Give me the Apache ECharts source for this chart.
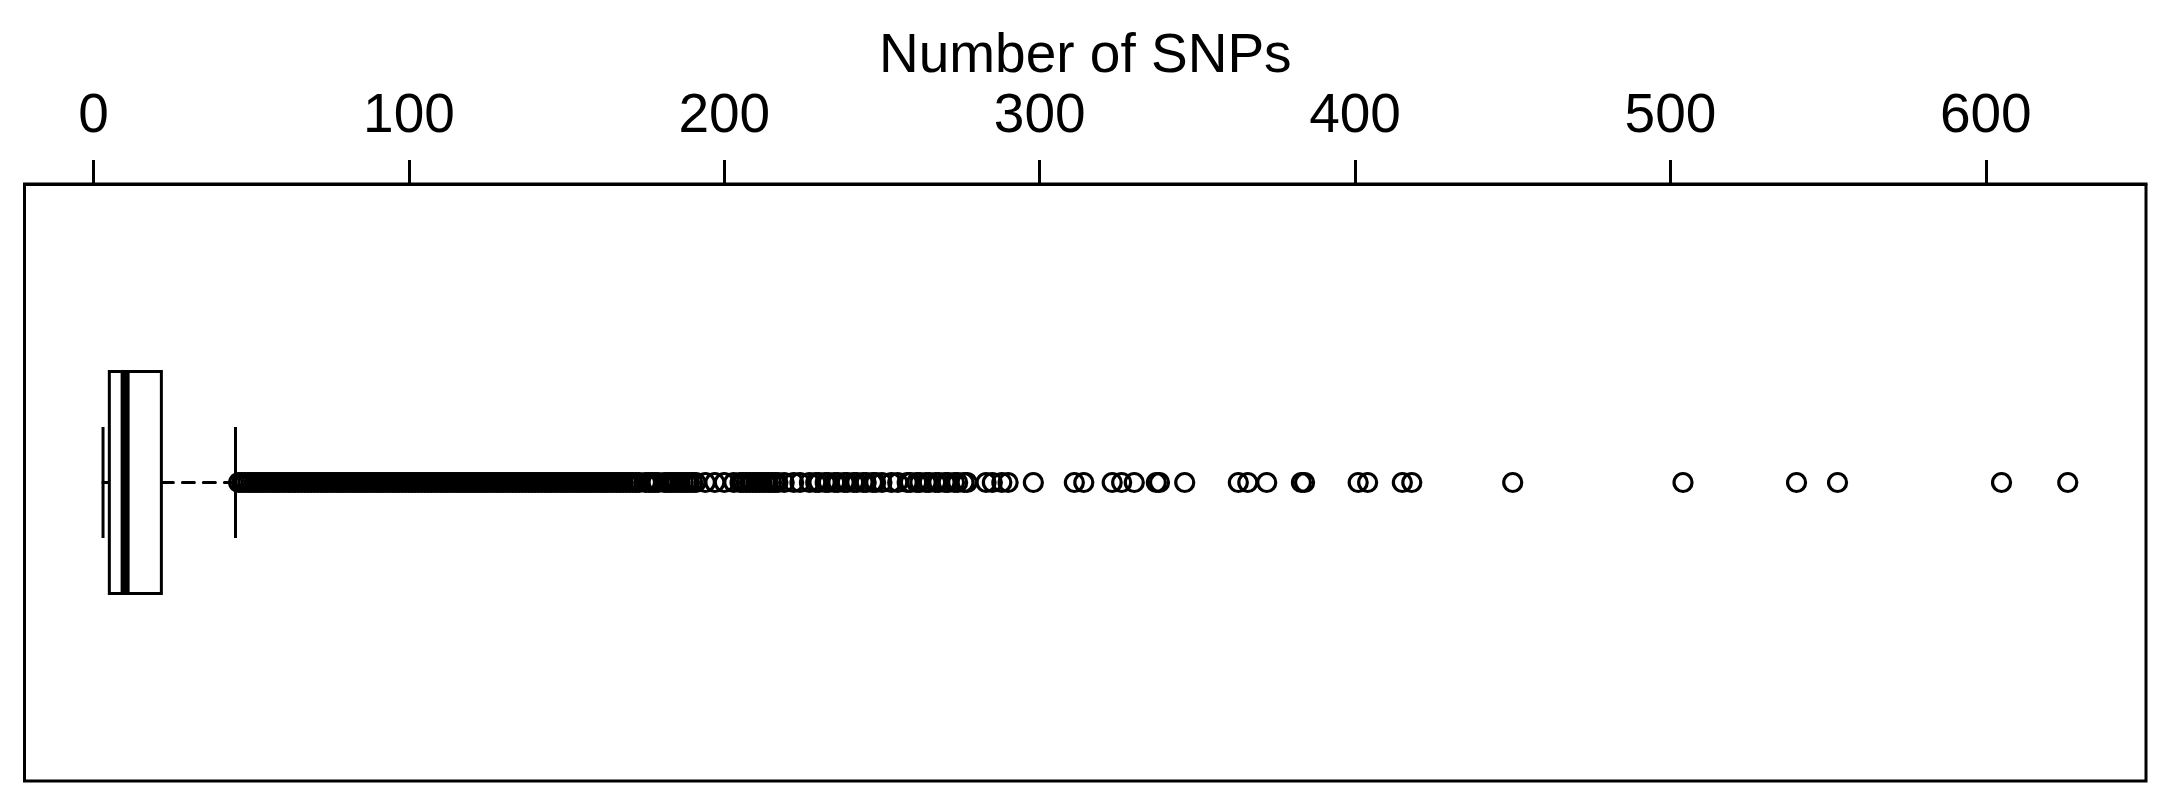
<!DOCTYPE html>
<html>
<head>
<meta charset="utf-8">
<title>Number of SNPs</title>
<script src="https://cdn.jsdelivr.net/npm/echarts@6/dist/echarts.min.js"></script>
<style>
  html, body { margin: 0; padding: 0; background: #fff; }
  #chart { width: 2169px; height: 812px; }
</style>
</head>
<body>
<!-- box plot container -->
<div id="chart"></div>
<script>
  // min whisker, Q1, median, Q3, max whisker
  var boxStats = [3, 5, 10, 21.5, 45];

  // outliers: the band is solid here, every count present
  var denseOutliers = [
    46, 47, 48, 49, 50, 51, 52, 53, 54, 55, 56, 57, 58, 59, 60, 61, 62, 63, 64, 65,
    66, 67, 68, 69, 70, 71, 72, 73, 74, 75, 76, 77, 78, 79, 80, 81, 82, 83, 84, 85,
    86, 87, 88, 89, 90, 91, 92, 93, 94, 95, 96, 97, 98, 99, 100, 101, 102, 103, 104, 105,
    106, 107, 108, 109, 110, 111, 112, 113, 114, 115, 116, 117, 118, 119, 120, 121, 122, 123, 124, 125,
    126, 127, 128, 129, 130, 131, 132, 133, 134, 135, 136, 137, 138, 139, 140, 141, 142, 143, 144, 145,
    146, 147, 148, 149, 150, 151, 152, 153, 154, 155, 156, 157, 158, 159, 160, 161, 162, 163, 164, 165,
    166, 167, 168, 169, 170, 171, 172, 173, 175, 176, 177, 178, 179, 181, 182, 183, 184, 185, 186, 187,
    188, 189, 190, 191
  ];

  // outliers further out, thinning; read one by one
  var sparseOutliers = [
    194, 197, 200, 203, 205, 206, 207, 208, 209, 210, 211, 212, 213, 214, 215, 216,
    217, 219, 222, 224, 227, 229, 230, 232, 233, 235, 236, 238, 239, 241, 242, 244,
    245, 247, 248, 250, 253, 255, 258, 259, 261, 262, 264, 265, 267, 268, 270, 271,
    273, 274, 276, 277, 283, 285, 288, 290, 298, 311, 314, 323, 326, 330, 337, 338,
    346, 363, 366, 372, 383, 384, 401, 404, 415, 418, 450, 504, 540, 553, 605, 626
  ];

  var tickValues = [0, 100, 200, 300, 400, 500, 600];

  var fontName = '"Liberation Sans", Arial, Helvetica, sans-serif';

  function renderBox(params, api) {
    var y = api.value(0);
    var lo = api.coord([api.value(1), y]);
    var q1 = api.coord([api.value(2), y]);
    var med = api.coord([api.value(3), y]);
    var q3 = api.coord([api.value(4), y]);
    var hi = api.coord([api.value(5), y]);
    var band = api.size([0, 1])[1];
    var half = band * 0.186;
    var staple = half / 2;
    var thin = { stroke: '#000', lineWidth: 3 };
    var dashed = { stroke: '#000', lineWidth: 3, lineDash: [12, 9], lineCap: 'round' };
    return {
      type: 'group',
      children: [
        { type: 'line', shape: { x1: q3[0], y1: q3[1], x2: hi[0], y2: hi[1] }, style: dashed },
        { type: 'line', shape: { x1: lo[0], y1: lo[1], x2: q1[0], y2: q1[1] }, style: dashed },
        { type: 'line', shape: { x1: lo[0], y1: lo[1] - staple, x2: lo[0], y2: lo[1] + staple }, style: thin },
        { type: 'line', shape: { x1: hi[0], y1: hi[1] - staple, x2: hi[0], y2: hi[1] + staple }, style: thin },
        {
          type: 'rect',
          shape: { x: q1[0], y: q1[1] - half, width: q3[0] - q1[0], height: half * 2 },
          style: { fill: '#fff', stroke: '#000', lineWidth: 3 }
        },
        { type: 'line', shape: { x1: med[0], y1: med[1] - half, x2: med[0], y2: med[1] + half }, style: { stroke: '#000', lineWidth: 9 } }
      ]
    };
  }

  var outliers = denseOutliers.concat(sparseOutliers).map(function (v) { return [v, 0]; });

  var chart = echarts.init(document.getElementById('chart'));
  chart.setOption({
    animation: false,
    backgroundColor: '#fff',
    textStyle: { fontFamily: fontName },
    grid: {
      left: 24.5,
      right: 23,
      top: 184,
      bottom: 31,
      show: true,
      borderColor: '#000',
      borderWidth: 3
    },
    xAxis: {
      type: 'value',
      position: 'top',
      min: -21.9,
      max: 650.8,
      name: 'Number of SNPs',
      nameLocation: 'middle',
      nameGap: 98,
      nameTextStyle: { fontSize: 55, color: '#000', fontFamily: fontName },
      splitLine: { show: false },
      axisLine: { show: true, lineStyle: { color: '#000', width: 3 } },
      axisTick: {
        show: true,
        customValues: tickValues,
        length: 24,
        lineStyle: { color: '#000', width: 3 }
      },
      axisLabel: {
        customValues: tickValues,
        fontSize: 55,
        color: '#000',
        margin: 40,
        fontFamily: fontName
      }
    },
    yAxis: {
      type: 'category',
      data: ['SNPs'],
      show: false
    },
    series: [
      {
        name: 'box',
        type: 'custom',
        renderItem: renderBox,
        encode: { x: [1, 2, 3, 4, 5], y: 0 },
        data: [[0].concat(boxStats)],
        z: 2
      },
      {
        name: 'outliers',
        type: 'scatter',
        symbol: 'circle',
        symbolSize: 18,
        itemStyle: { color: 'rgba(0,0,0,0)', borderColor: '#000', borderWidth: 3.2, opacity: 1 },
        data: outliers,
        z: 3
      }
    ]
  });
</script>
</body>
</html>
